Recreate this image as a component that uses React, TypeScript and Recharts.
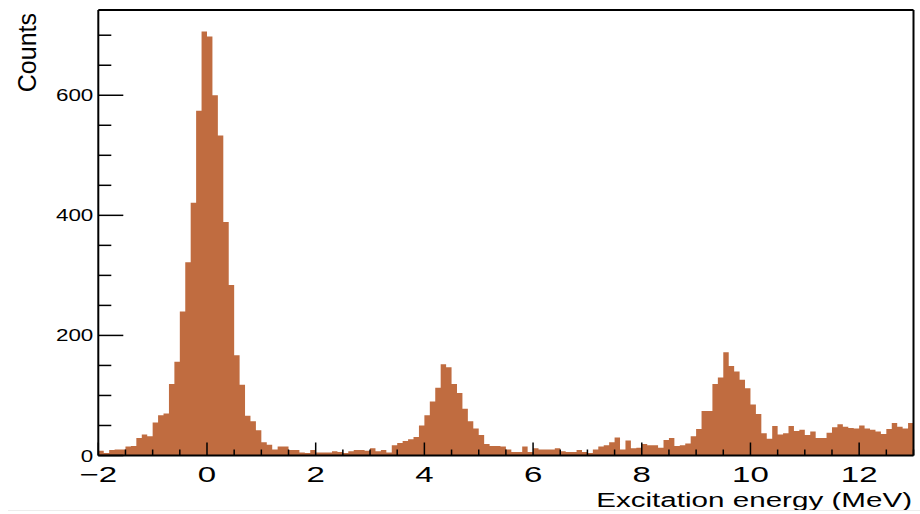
import { AreaChart, Area, XAxis, YAxis, ReferenceLine } from 'recharts'

// histogram: 0.1 MeV bins starting at -2 MeV
const binStart = -2
const binWidth = 0.1

const counts = [
  8, 4, 9, 10, 10, 15, 16, 29, 35, 32,
  55, 67, 70, 119, 156, 240, 322, 421, 574, 706,
  698, 600, 533, 389, 284, 167, 118, 66, 57, 42,
  22, 18, 10, 15, 15, 9, 9, 5, 4, 9,
  5, 5, 5, 7, 6, 4, 7, 9, 9, 8,
  12, 7, 9, 5, 17, 21, 24, 27, 31, 50,
  67, 90, 113, 152, 147, 119, 104, 78, 57, 45,
  34, 19, 16, 16, 15, 10, 6, 6, 15, 6,
  12, 10, 10, 10, 12, 7, 6, 6, 9, 6,
  4, 10, 15, 17, 22, 30, 10, 25, 12, 13,
  19, 17, 17, 13, 26, 29, 16, 17, 20, 32,
  44, 74, 74, 119, 130, 172, 149, 140, 126, 112,
  85, 69, 37, 28, 49, 35, 37, 49, 41, 43,
  34, 40, 29, 29, 38, 47, 52, 48, 46, 45,
  50, 45, 43, 40, 36, 44, 54, 48, 45, 54,
]

const xTicks = [
  -2, -1.5, -1, -0.5, 0, 0.5, 1, 1.5, 2, 2.5, 3, 3.5, 4, 4.5, 5, 5.5,
  6, 6.5, 7, 7.5, 8, 8.5, 9, 9.5, 10, 10.5, 11, 11.5, 12, 12.5, 13,
]
const xLabelled = [-2, 0, 2, 4, 6, 8, 10, 12]
const yTicks = [0, 50, 100, 150, 200, 250, 300, 350, 400, 450, 500, 550, 600, 650, 700]
const yLabelled = [0, 200, 400, 600]
const yMax = 742

// step-after area: one point per bin's lower edge, plus the closing upper edge
const data = counts.map((c, i) => ({ e: binStart + binWidth * i, c }))
data.push({ e: binStart + binWidth * counts.length, c: counts[counts.length - 1] })

const font = '"Liberation Sans", Arial, Helvetica, sans-serif'
const barColor = '#c06c40'

function XTick(props: any) {
  const { x, y, payload } = props
  const v = payload.value
  const major = xLabelled.includes(v)
  return (
    <g>
      <line x1={x} x2={x} y1={y} y2={y - (major ? 13 : 6)} stroke="#000" strokeWidth={1.5} />
      {major && (
        <text
          transform={`translate(${x},${y + 26.5}) scale(1.5,1)`}
          textAnchor="middle"
          fontSize={22}
          fontFamily={font}
          fill="#000"
        >
          {v < 0 ? `\u2212${-v}` : v}
        </text>
      )}
    </g>
  )
}

function YTick(props: any) {
  const { x, y, payload } = props
  const v = payload.value
  const major = yLabelled.includes(v)
  return (
    <g>
      <line x1={x} x2={x + (major ? 25 : 13)} y1={y} y2={y} stroke="#000" strokeWidth={1.5} />
      {major && (
        <text
          transform={`translate(${x - 5},${y + 6}) scale(1.4,1)`}
          textAnchor="end"
          fontSize={16}
          fontFamily={font}
          fill="#000"
        >
          {v}
        </text>
      )}
    </g>
  )
}

export default function App() {
  return (
    <div style={{ position: 'absolute', left: 0, top: 0, width: 920, height: 514, background: '#fff' }}>
      <AreaChart
        width={920}
        height={514}
        data={data}
        margin={{ top: 10, right: 6.5, left: 0, bottom: 0 }}
      >
        <XAxis
          type="number"
          dataKey="e"
          domain={[-2, 13]}
          ticks={xTicks}
          interval={0}
          tickSize={0}
          tickMargin={0}
          height={58.5}
          axisLine={{ stroke: '#000', strokeWidth: 2 }}
          tick={<XTick />}
          label={{
            content: () => (
              <text
                transform="translate(912,507) scale(1.41,1)"
                textAnchor="end"
                fontSize={21}
                fontFamily={font}
                fill="#000"
              >
                Excitation energy (MeV)
              </text>
            ),
          }}
        />
        <YAxis
          type="number"
          domain={[0, yMax]}
          ticks={yTicks}
          interval={0}
          tickSize={0}
          tickMargin={0}
          width={98.3}
          axisLine={{ stroke: '#000', strokeWidth: 2 }}
          tick={<YTick />}
          label={{
            content: () => (
              <text
                transform="translate(36,13) rotate(-90)"
                textAnchor="end"
                fontSize={25}
                fontFamily={font}
                fill="#000"
              >
                Counts
              </text>
            ),
          }}
        />
        <Area
          type="stepAfter"
          dataKey="c"
          fill={barColor}
          fillOpacity={1}
          stroke="none"
          baseValue={0}
          dot={false}
          activeDot={false}
          isAnimationActive={false}
        />
        <ReferenceLine y={yMax} stroke="#000" strokeWidth={2} />
        <ReferenceLine x={13} stroke="#000" strokeWidth={2} />
      </AreaChart>
      <div style={{ position: 'absolute', left: 8, right: 0, top: 510, height: 1, background: '#ececec' }} />
    </div>
  )
}
